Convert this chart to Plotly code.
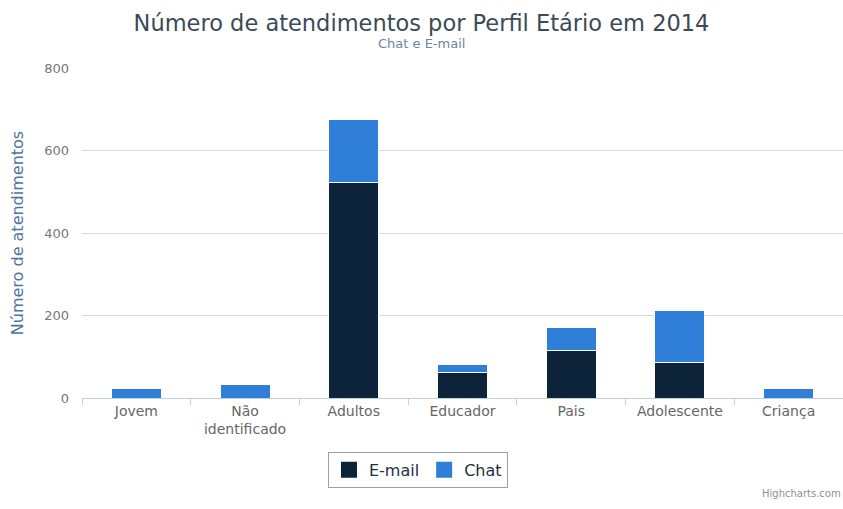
import plotly.graph_objects as go

categories = ["Jovem", "Não<br>identificado", "Adultos", "Educador", "Pais", "Adolescente", "Criança"]
email = [0, 0, 522, 63, 114, 85, 0]
chat = [23, 33, 152, 19, 58, 126, 24]
y_ticks = [0, 200, 400, 600, 800]
series_names = ["E-mail", "Chat"]
series_colors = ["#0d233a", "#2f7ed8"]

FONT = "DejaVu Sans"

fig = go.Figure()
for name, vals, col in zip(series_names, [email, chat], series_colors):
    fig.add_trace(go.Bar(name=name, x=categories, y=vals, showlegend=False,
                         marker=dict(color=col, line=dict(color="white", width=1))))
# legend entries with larger square symbols
for name, col in zip(series_names, series_colors):
    fig.add_trace(go.Scatter(name=name, x=[None], y=[None], mode="markers",
                             marker=dict(symbol="square", size=17, color=col)))

fig.update_layout(
    barmode="stack",
    bargap=0.54,
    width=843, height=509,
    margin=dict(l=82, r=0, t=68, b=111),
    paper_bgcolor="white", plot_bgcolor="white",
    font=dict(family=FONT, color="#666666", size=14),
    title=dict(
        text="Número de atendimentos por Perfil Etário em 2014",
        xref="container", x=0.5, xanchor="center",
        yref="container", y=1 - 23 / 509, yanchor="middle",
        font=dict(family=FONT, size=22.5, color="#3b4a57"),
    ),
    showlegend=True,
    legend=dict(
        orientation="h", x=0.4415, xanchor="center", y=-0.163, yanchor="top",
        bordercolor="#a0a0a0", borderwidth=1,
        font=dict(family=FONT, size=16, color="#1f2f3f"),
        traceorder="normal", itemwidth=30, tracegroupgap=0,
    ),
    xaxis=dict(
        tickson="boundaries", ticks="outside", ticklen=6, tickcolor="#C0D0E0",
        showline=True, linecolor="#C0D0E0", linewidth=1,
        showgrid=False, tickfont=dict(size=14, color="#666666"),
    ),
    yaxis=dict(
        range=[0, 800], tickvals=y_ticks, showgrid=True, gridcolor="#D8D8D8",
        zeroline=False, ticks="", ticklabelstandoff=12,
        tickfont=dict(size=13, color="#777777"),
        title=dict(text="Número de atendimentos", font=dict(size=16, color="#4d759e"), standoff=16),
    ),
)

fig.add_annotation(text="Chat e E-mail", xref="paper", yref="paper",
                   x=(421 - 82) / 761, y=(398 - 43) / 330, xanchor="center", yanchor="middle",
                   showarrow=False, font=dict(family=FONT, size=13, color="#6D869F"))

fig.add_annotation(text="Highcharts.com", xref="paper", yref="paper", x=1.0, y=(398 - 493) / 330,
                   xanchor="right", yanchor="middle", showarrow=False,
                   font=dict(family=FONT, size=10, color="#909090"))

fig.write_html("out.html")
